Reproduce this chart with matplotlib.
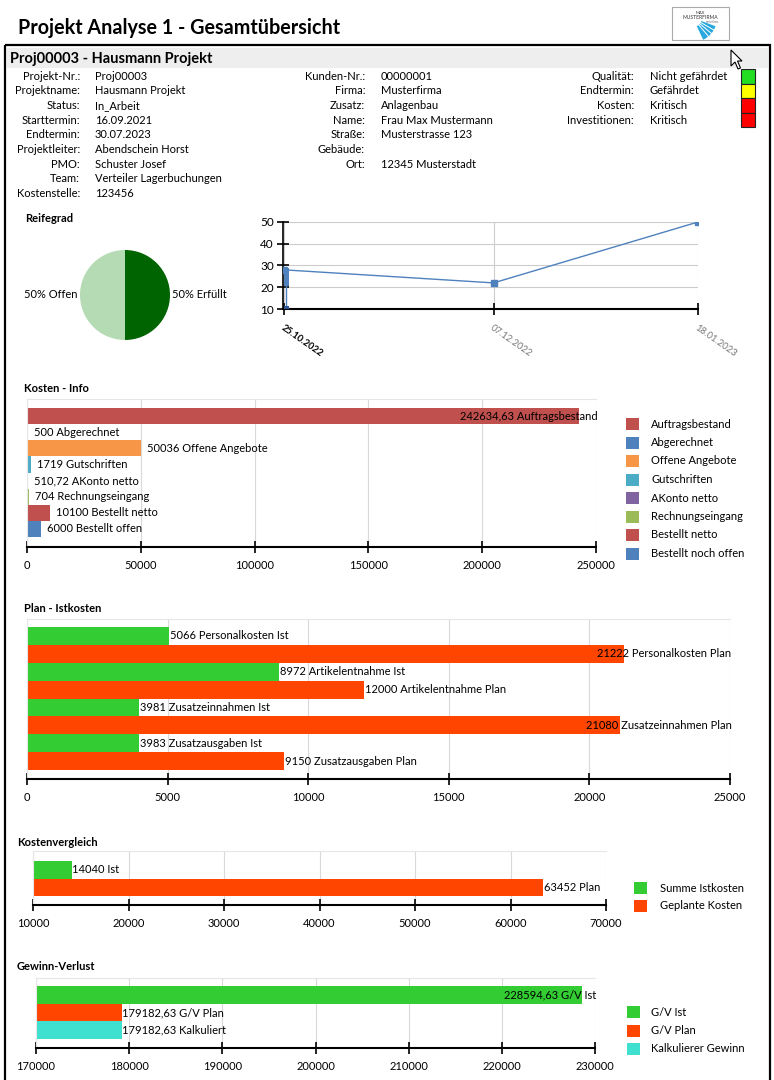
import numpy as np
import matplotlib
matplotlib.use('Agg')
import matplotlib.pyplot as plt
from matplotlib.patches import Rectangle, Polygon, Wedge
from matplotlib.ticker import FormatStrFormatter
from datetime import datetime, timedelta

plt.rcParams['font.family'] = ['Lato', 'DejaVu Sans']

W, H = 774, 1080

# Kopf
titel = 'Projekt Analyse 1 - Gesamtübersicht'
projekt_kopf = 'Proj00003 - Hausmann Projekt'

info_links = [('Projekt-Nr.:', 'Proj00003'), ('Projektname:', 'Hausmann Projekt'),
              ('Status:', 'In_Arbeit'), ('Starttermin:', '16.09.2021'),
              ('Endtermin:', '30.07.2023'), ('Projektleiter:', 'Abendschein Horst'),
              ('PMO:', 'Schuster Josef'), ('Team:', 'Verteiler Lagerbuchungen'),
              ('Kostenstelle:', '123456')]
info_mitte = [('Kunden-Nr.:', '00000001'), ('Firma:', 'Musterfirma'),
              ('Zusatz:', 'Anlagenbau'), ('Name:', 'Frau Max Mustermann'),
              ('Straße:', 'Musterstrasse 123'), ('Gebäude:', ''),
              ('Ort:', '12345 Musterstadt')]
info_rechts = [('Qualität:', 'Nicht gefährdet'), ('Endtermin:', 'Gefährdet'),
               ('Kosten:', 'Kritisch'), ('Investitionen:', 'Kritisch')]
ampel = ['#22dd22', '#ffff00', '#ff0000', '#ff0000']

# Reifegrad
reife_namen = ['Erfüllt', 'Offen']
reife_werte = [50, 50]
reife_farben = ['#006400', '#b5dbb5']

# Verlauf
verlauf_datum = ['25.10.2022', '07.12.2022', '18.01.2023']
verlauf_werte = [28, 22, 50]
saeule_unten = 20.5
saeule_oben = 28.8
saeule_fuss = 11

# Kosten - Info
kosten_werte = [242634.63, 500, 50036, 1719, 510.72, 704, 10100, 6000]
kosten_texte = ['Auftragsbestand', 'Abgerechnet', 'Offene Angebote', 'Gutschriften',
                'AKonto netto', 'Rechnungseingang', 'Bestellt netto', 'Bestellt offen']
kosten_legende = ['Auftragsbestand', 'Abgerechnet', 'Offene Angebote', 'Gutschriften',
                  'AKonto netto', 'Rechnungseingang', 'Bestellt netto', 'Bestellt noch offen']
kosten_farben = ['#c0504d', '#4f81bd', '#f79646', '#4bacc6',
                 '#8064a2', '#9bbb59', '#c0504d', '#4f81bd']

# Plan - Istkosten
plan_texte = ['Personalkosten Ist', 'Personalkosten Plan', 'Artikelentnahme Ist',
              'Artikelentnahme Plan', 'Zusatzeinnahmen Ist', 'Zusatzeinnahmen Plan',
              'Zusatzausgaben Ist', 'Zusatzausgaben Plan']
plan_werte = [5066, 21222, 8972, 12000, 3981, 21080, 3983, 9150]

gruen = '#33cc33'
rot = '#ff4500'
tuerkis = '#40e0d0'

# Kostenvergleich
vergl_texte = ['Ist', 'Plan']
vergl_werte = [14040, 63452]
vergl_legende = ['Summe Istkosten', 'Geplante Kosten']

# Gewinn-Verlust
gv_texte = ['G/V Ist', 'G/V Plan', 'Kalkuliert']
gv_werte = [228594.63, 179182.63, 179182.63]
gv_legende = ['G/V Ist', 'G/V Plan', 'Kalkulierer Gewinn']


def zahl(v):
    if float(v).is_integer():
        return str(int(v))
    return ('%.2f' % v).replace('.', ',')


fig = plt.figure(figsize=(W / 100, H / 100), dpi=100)
fig.patch.set_facecolor('white')

bg = fig.add_axes([0, 0, 1, 1])
bg.set_xlim(0, W)
bg.set_ylim(H, 0)
bg.axis('off')


def achse(x0, y0, x1, y1):
    return fig.add_axes([x0 / W, 1 - y1 / H, (x1 - x0) / W, (y1 - y0) / H])


# Titel, Logo, Rahmen
bg.text(18, 28, titel, fontsize=14.2, fontweight='bold', va='center')
bg.add_patch(Rectangle((672, 7), 57, 33, fc='white', ec='#aaaaaa', lw=0.8))
bg.text(700, 13, 'MAX', fontsize=3, ha='center', va='center', color='#333333')
bg.text(700, 17.5, 'MUSTERFIRMA', fontsize=3.6, ha='center', va='center', color='#333333')
bg.text(713, 22, 'musterfirma', fontsize=1.8, ha='center', va='center', color='#666666')
bg.add_patch(Wedge((693, 18), 24, 20, 65, fc='#29a8e0', ec='none'))
bg.add_patch(Wedge((693, 18), 9, 0, 90, fc='white', ec='none'))
for a in [30, 40, 50]:
    r = np.deg2rad(a)
    bg.plot([693, 693 + 25 * np.cos(r)], [18, 18 + 25 * np.sin(r)], color='white', lw=0.7)

bg.add_patch(Rectangle((5, 45), 765, 1100, fill=False, ec='black', lw=1.6))
bg.add_patch(Rectangle((7, 48), 761, 20, fc='#eeeeee', ec='none'))
bg.text(10, 59, projekt_kopf, fontsize=10.5, fontweight='bold', va='center')
bg.add_patch(Polygon([(731, 50), (731, 66), (735, 62), (738, 69), (740.5, 68),
                      (737.5, 61), (742, 61)], closed=True, fc='white', ec='black', lw=0.8))

fs = 8
y0, dy = 76, 14.7
for i, (k, v) in enumerate(info_links):
    bg.text(80, y0 + i * dy, k, fontsize=fs, ha='right', va='center')
    bg.text(95, y0 + i * dy, v, fontsize=fs, va='center')
for i, (k, v) in enumerate(info_mitte):
    bg.text(365, y0 + i * dy, k, fontsize=fs, ha='right', va='center')
    bg.text(381, y0 + i * dy, v, fontsize=fs, va='center')
for i, (k, v) in enumerate(info_rechts):
    bg.text(634, y0 + i * dy, k, fontsize=fs, ha='right', va='center')
    bg.text(650, y0 + i * dy, v, fontsize=fs, va='center')
    bg.add_patch(Rectangle((741, 69 + i * 14.6), 14, 14.6, fc=ampel[i], ec='#222222', lw=0.8))

# Abschnittstitel
for x, y, t in [(25, 218, 'Reifegrad'), (24, 388, 'Kosten - Info'), (24, 608, 'Plan - Istkosten'),
                (17, 842, 'Kostenvergleich'), (17, 967, 'Gewinn-Verlust')]:
    bg.text(x, y, t, fontsize=8, fontweight='bold', va='center')

# Reifegrad
ax = achse(80, 250, 170, 340)
ax.pie(reife_werte, colors=reife_farben, startangle=90, counterclock=False,
       labels=['%d%% %s' % (w, n) for w, n in zip(reife_werte, reife_namen)],
       labeldistance=1.05, textprops={'fontsize': fs})
ax.set_xlim(-1, 1)
ax.set_ylim(-1, 1)

# Verlauf
ax = achse(283, 222, 698, 309)
ax.set_facecolor('none')
d = [datetime.strptime(s, '%d.%m.%Y') for s in verlauf_datum]
ax.vlines(d[0] + timedelta(hours=10), 10, saeule_oben, color='#4f81bd', lw=1)
ax.bar(d[0], saeule_oben - saeule_unten, bottom=saeule_unten, width=0.9, align='edge',
       color='#4f81bd', zorder=3)
ax.bar(d[0], 1.6, bottom=saeule_fuss - 1, width=0.9, align='edge', color='#2f5597', zorder=3)
ax.plot(d, verlauf_werte, color='#4f81bd', lw=1, marker='s', ms=4, zorder=4)
ax.set_ylim(10, 50)
ax.set_xlim(d[0] - timedelta(hours=6), d[-1])
ax.set_yticks([10, 20, 30, 40, 50])
ax.set_xticks(d)
ax.set_xticklabels(verlauf_datum, rotation=-35, ha='left', rotation_mode='anchor', fontsize=6.8)
for i, lab in enumerate(ax.get_xticklabels()):
    if i == 0:
        lab.set_fontweight('bold')
    else:
        lab.set_color('#777777')
ax.grid(color='#cccccc', lw=0.8)
ax.set_axisbelow(True)
for s in ['top', 'right']:
    ax.spines[s].set_visible(False)
ax.spines['left'].set_linewidth(1.2)
ax.spines['bottom'].set_linewidth(1.5)
ax.tick_params(axis='y', direction='inout', length=9, width=1.2, labelsize=8.5, pad=2)
ax.tick_params(axis='x', direction='inout', length=9, width=1.2, pad=6)


def balken(box, werte, farben, xmin, xmax, step, ylim, texte, abstand):
    ax = achse(*box)
    ax.set_facecolor('none')
    pos = np.arange(len(werte))
    ax.barh(pos, werte, height=1.0, color=farben)
    ax.set_xlim(xmin, xmax)
    ax.set_ylim(*ylim)
    ax.set_xticks(np.arange(xmin, xmax + 1, step))
    ax.xaxis.set_major_formatter(FormatStrFormatter('%d'))
    ax.set_yticks([])
    ax.grid(axis='x', color='#d9d9d9', lw=0.8)
    ax.set_axisbelow(True)
    ax.spines['right'].set_visible(False)
    ax.spines['top'].set_color('#e6e6e6')
    ax.spines['left'].set_color('#e6e6e6')
    ax.spines['bottom'].set_linewidth(1.5)
    ax.tick_params(axis='x', direction='inout', length=9, width=1.2, labelsize=8, pad=5)
    fig.canvas.draw()
    r = fig.canvas.get_renderer()
    rand = ax.get_window_extent(r).x1
    for p, v, t in zip(pos, werte, texte):
        txt = ax.annotate(zahl(v) + ' ' + t, (v, p), xytext=(abstand, 0),
                          textcoords='offset points', va='center', fontsize=fs)
        if txt.get_window_extent(r).x1 > rand + 2:
            txt.xy = (xmax, p)
            txt.set_position((1, 0))
            txt.set_ha('right')
    return ax


def legende(x, y, dy, namen, farben, tx):
    for i, (n, c) in enumerate(zip(namen, farben)):
        bg.add_patch(Rectangle((x, y + i * dy - 6), 13, 12, fc=c, ec='none'))
        bg.text(tx, y + i * dy, n, fontsize=fs, va='center')


balken((27, 399, 596, 547), kosten_werte, kosten_farben, 0, 250000, 50000,
       (8.12, -1.06), kosten_texte, 4.5)
legende(626, 424, 18.5, kosten_legende, kosten_farben, 651)

balken((27, 619, 730, 779), plan_werte, [gruen, rot] * 4, 0, 25000, 5000,
       (8.0, -0.95), plan_texte, 0.5)

balken((33, 851, 606, 905), vergl_werte, [gruen, rot], 10000, 70000, 10000,
       (2.01, -1.07), vergl_texte, 0.5)
legende(634, 888, 17.5, vergl_legende, [gruen, rot], 660)

balken((36, 978, 595, 1048), gv_werte, [gruen, rot, tuerkis], 170000, 230000, 10000,
       (3.0, -0.95), gv_texte, 0.5)
legende(627, 1012, 18.5, gv_legende, [gruen, rot, tuerkis], 651)

fig.savefig('out.png', dpi=100)
